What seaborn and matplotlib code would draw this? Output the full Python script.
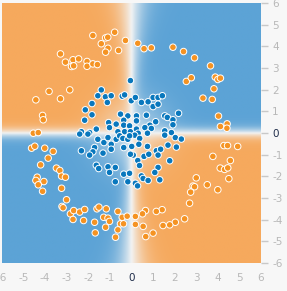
import numpy as np
import pandas as pd
import matplotlib
matplotlib.use('Agg')
import matplotlib.pyplot as plt
import seaborn as sns
from matplotlib.colors import LinearSegmentedColormap

# ---------------------------------------------------------
# Data (x, y in data units)
# ---------------------------------------------------------
blue_x = [-0.05, -1.40, -1.56, -1.21, -0.94, -1.12, -0.43, -0.32, -0.01, -1.83, -2.14, -1.83, -2.17,
          -0.51, -0.17, -1.06, -0.71, -0.36, -0.36, -0.09, -1.02, -2.32, -1.94, -1.63, -0.63, -0.32, -0.05,
          0.18, 0.46, 0.77, 1.00, 1.23, 1.43, 1.00, 1.23, 0.69, 0.23, 0.23, 1.54, 1.66, 2.18, 1.92, 1.92,
          1.12, 0.85, 0.62, 0.92, 1.54, 0.74, 0.23, 0.31, 1.85,
          0.15, 0.38, 1.54, 2.03, 2.31, 0.34, 0.74, 1.69, 0.08, 0.58, 0.80, 1.15, 1.35, 1.23, 1.77, 1.23,
          1.08, 0.46, 0.54, 1.31, 0.18, 0.28, 2.08, 0.77,
          -2.40, -2.02, -1.56, -1.28, -1.09, -0.94, -0.71, -0.55, -0.40, -0.17, -0.09, -2.32, -1.71, -1.79,
          -1.94, -1.32, -0.94, -0.36, 0.01, -0.05, -1.63, -1.52, -1.09, -0.75, -1.02, -0.36, -0.09, -0.17,
          -0.75, 0.29, 0.37]
blue_y = [2.42, 1.99, 1.72, 1.67, 1.72, 1.41, 1.70, 1.76, 1.49, 1.36, 1.07, 0.84, 0.59,
          0.87, 0.79, 0.48, 0.41, 0.59, 0.36, 0.33, 0.25, 0.06, 0.02, 0.18, 0.06, 0.06, 0.06,
          1.64, 1.41, 1.44, 1.64, 1.64, 1.72, 1.22, 1.33, 0.82, 0.79, 0.56, 0.79, 0.72, 0.91, 0.61, 0.38,
          0.52, 0.36, 0.25, 0.21, 0.10, -0.01, 0.18, -0.01, 0.02,
          -0.10, -0.25, -0.10, -0.21, -0.28, -0.52, -0.62, -0.56, -1.02, -1.08, -0.98, -0.82, -0.75, -1.02,
          -1.28, -1.59, -1.82, -1.98, -2.10, -2.16, -2.32, -2.44, -0.65, -2.19,
          -0.05, -0.05, -0.29, -0.44, -0.21, -0.52, -0.29, -0.13, -0.25, -0.29, -0.13, -0.82, -0.67, -0.87,
          -1.02, -0.93, -0.75, -0.67, -0.62, -0.98, -1.49, -1.64, -1.56, -1.59, -1.82, -1.90, -1.86, -2.25,
          -2.25, -1.27, -1.50]

orange_x = [-0.78, -1.79, -1.20, -1.10, -0.28, 0.29, -1.40, -1.09, -1.20, -0.60, -3.29, -3.06, -2.71,
            -2.45, -2.78, -2.68, -2.06, -2.06, -1.79, -1.58, -3.82, -2.86, -3.29, -4.43, -4.12, -4.09,
            -4.55, -4.32,
            0.58, 0.92, 1.92, 2.41, 2.92, 3.66, 3.88, 4.00, 4.12, 2.54, 2.77, 3.82, 3.31, 3.74, 4.03,
            4.12, 4.43, 4.42,
            4.28, 4.45, 4.92, 3.77, 4.58, 4.11, 4.31, 4.46, 4.51, 3.00, 3.51, 2.85, 2.92, 4.00, 2.74,
            2.69, 2.46, 2.03, 1.77, 1.46, 1.42, 1.15, 0.65, 0.51, 0.54, 0.66, 1.00, 0.18, 0.18,
            -4.63, -4.48, -4.02, -3.63, -3.86, -4.21, -3.48, -3.32, -3.24, -3.06, -4.37, -4.43, -4.06,
            -4.32, -4.12, -3.24, -3.01, -3.22, -3.17, -2.83, -2.71, -2.68, -2.40, -2.17, -2.22, -1.71,
            -1.68, -1.60, -1.51, -1.17, -1.29, -1.09, -1.02, -1.20, -0.63, -0.43, -0.51, -0.37, -0.63,
            -0.74, -0.20]
orange_y = [4.65, 4.50, 4.39, 4.42, 4.27, 4.14, 4.12, 3.91, 3.73, 3.81, 3.65, 3.27, 3.38,
            3.42, 3.07, 3.10, 3.30, 3.08, 3.19, 3.16, 1.92, 1.99, 1.58, 1.53, 0.81, 0.61,
            -0.01, 0.02,
            3.89, 3.93, 3.96, 3.76, 3.47, 3.10, 2.58, 2.47, 2.53, 2.38, 2.55, 2.04, 1.61, 1.55, 0.78,
            0.30, 0.42, 0.22,
            -0.58, -0.58, -0.62, -1.08, -1.27, -1.62, -1.68, -1.61, -2.11, -2.07, -2.39, -2.45, -2.48,
            -2.62, -2.73, -3.24, -3.96, -4.12, -4.24, -4.27, -3.54, -3.62, -3.58, -3.73, -4.31, -4.78,
            -4.62, -3.85, -4.22,
            -0.70, -0.61, -0.70, -0.85, -1.16, -1.47, -1.62, -1.73, -1.99, -2.04, -2.04, -2.19, -2.24,
            -2.39, -2.69, -2.55, -3.08, -3.39, -3.45, -3.73, -3.99, -3.58, -3.65, -3.53, -4.04, -4.12,
            -4.61, -3.50, -3.42, -3.50, -3.89, -3.93, -4.08, -4.35, -3.62, -3.89, -4.19, -4.19, -4.47,
            -4.81, -3.84]

tick_values = list(range(-6, 7))

# decision-surface settings (quadrant sign pattern of the trained model)
band_width = 0.3
center_fade = 0.6

ORANGE = '#f59322'
BLUE = '#0877bd'
BG_ORANGE = '#f6a95d'
BG_BLUE = '#5ca3d6'
BG_MID = '#f2f3f3'

df = pd.DataFrame({
    'x': blue_x + orange_x,
    'y': blue_y + orange_y,
    'label': ['blue'] * len(blue_x) + ['orange'] * len(orange_x),
})

sns.set_style('white')
plt.rcParams['font.family'] = ['DejaVu Sans']
plt.rcParams['axes.unicode_minus'] = False

fig = plt.figure(figsize=(2.87, 2.91), dpi=100, facecolor='#f7f7f7')
ax = fig.add_axes([2 / 287, 28 / 291, 259 / 287, 260 / 291])

# background: model output surface
g = np.linspace(-6, 6, 300)
gx, gy = np.meshgrid(g, g)
wx = band_width + 0.015 * gy ** 2
surface = np.tanh(gx / wx) * np.tanh(gy / band_width)
surface *= 1 - center_fade * np.exp(-(gx ** 2 + gy ** 2) / 2.5)
cmap = LinearSegmentedColormap.from_list('pg', [BG_ORANGE, BG_MID, BG_BLUE])
ax.imshow(surface, extent=(-6, 6, -6, 6), origin='lower', cmap=cmap,
          vmin=-1, vmax=1, interpolation='bilinear', aspect='auto', zorder=0)

sns.scatterplot(data=df, x='x', y='y', hue='label',
                palette={'blue': BLUE, 'orange': ORANGE},
                s=22, edgecolor='white', linewidth=0.7, legend=False, ax=ax, zorder=2)

ax.set_xlim(-6, 6)
ax.set_ylim(-6, 6)
ax.set_xticks(tick_values)
ax.set_yticks(tick_values)
ax.set_xticklabels([str(v) for v in tick_values])
ax.set_yticklabels([str(v) for v in tick_values])
ax.yaxis.tick_right()
ax.set_xlabel('')
ax.set_ylabel('')
for s in ax.spines.values():
    s.set_visible(False)
ax.tick_params(axis='both', length=5, width=1, color='#c8c8c8',
               labelcolor='#b8b8b8', labelsize=7.5)
ax.tick_params(axis='x', pad=2)
ax.tick_params(axis='y', pad=3)
for lab in ax.get_xticklabels() + ax.get_yticklabels():
    if lab.get_text() == '0':
        lab.set_color('#1f2d4a')

fig.savefig('out.png', dpi=100, facecolor=fig.get_facecolor())
